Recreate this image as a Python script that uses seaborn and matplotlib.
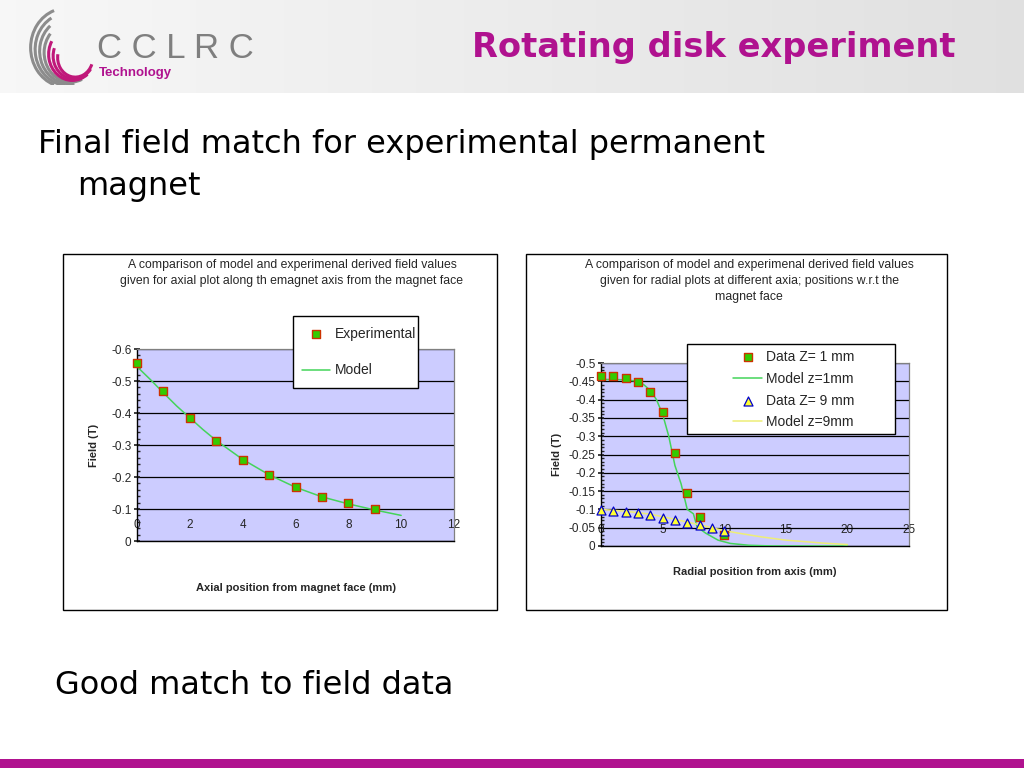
import matplotlib.pyplot as plt
import seaborn as sns
import numpy as np
from matplotlib.patches import Rectangle, Arc
from matplotlib.ticker import MultipleLocator

# Axial plot: experimental points and model curve
axial_x = [0, 1, 2, 3, 4, 5, 6, 7, 8, 9]
axial_field = [-0.555, -0.468, -0.383, -0.311, -0.252, -0.207, -0.168, -0.139, -0.118, -0.100]
axial_model_x = [0, 0.5, 1, 1.5, 2, 2.5, 3, 4, 5, 6, 7, 8, 9, 10]
axial_model_field = [-0.545, -0.505, -0.463, -0.422, -0.385, -0.348, -0.314, -0.255, -0.207, -0.168,
                     -0.138, -0.116, -0.097, -0.080]

# Radial plots at z = 1 mm and z = 9 mm
radial_z1_x = [0, 1, 2, 3, 4, 5, 6, 7, 8, 10]
radial_z1_field = [-0.465, -0.465, -0.460, -0.448, -0.420, -0.365, -0.255, -0.145, -0.080, -0.030]
radial_z1_model_x = [0, 1, 2, 3, 3.5, 4, 4.5, 5, 5.5, 6, 6.5, 7, 7.5, 7.8, 8.5, 9.5, 10.5, 12, 14, 17, 20]
radial_z1_model_field = [-0.455, -0.455, -0.454, -0.450, -0.440, -0.425, -0.400, -0.360, -0.300, -0.220,
                         -0.170, -0.100, -0.088, -0.052, -0.035, -0.016, -0.007, -0.002, 0.0, 0.0, 0.0]
radial_z9_x = [0, 1, 2, 3, 4, 5, 6, 7, 8, 9, 10]
radial_z9_field = [-0.098, -0.096, -0.093, -0.090, -0.085, -0.077, -0.070, -0.062, -0.057, -0.048, -0.040]
radial_z9_model_x = [0, 2, 4, 6, 8, 9, 10, 11, 13, 15, 18, 20]
radial_z9_model_field = [-0.100, -0.095, -0.087, -0.073, -0.058, -0.050, -0.042, -0.036, -0.025, -0.016,
                         -0.008, -0.004]

W, H = 1024, 768
PLOT_BG = "#ccccff"
SQ_FACE, SQ_EDGE = "#33cc00", "#cc3300"
TRI_FACE, TRI_EDGE = "#ffff33", "#0000cc"
GREEN_LINE = "#44d45a"
YELLOW_LINE = "#eeee77"
MAGENTA = "#b0128f"

sns.set_theme(style="white")
plt.rcParams["font.family"] = ["DejaVu Sans"]

fig = plt.figure(figsize=(W / 100, H / 100), dpi=100)
fig.patch.set_facecolor("white")


def px_axes(left, top, right, bottom, **kw):
    # Create axes from pixel coordinates of the slide
    return fig.add_axes([left / W, 1 - bottom / H, (right - left) / W, (bottom - top) / H], **kw)


def fx(x):
    return x / W


def fy(y):
    return 1 - y / H


# Background layer for header, chart boxes and bottom band
bg = px_axes(0, 0, W, H)
bg.set_axis_off()
grad = np.linspace(0.97, 0.88, 256).reshape(1, -1)
bg.imshow(np.dstack([grad, grad, grad]), aspect="auto", extent=[0, W, 93, 0])
bg.add_patch(Rectangle((0, 759), W, 9, color=MAGENTA, lw=0))
for (l, t, r, b) in [(63, 254, 497, 610), (526, 254, 947, 610)]:
    bg.add_patch(Rectangle((l, t), r - l, b - t, facecolor="white", edgecolor="black", lw=1.0))
bg.set_xlim(0, W)
bg.set_ylim(H, 0)

# Logo: swirl of arcs, CCLRC and Technology
logo = px_axes(25, 2, 100, 85)
logo.set_xlim(0, 1)
logo.set_ylim(0, 1)
logo.set_axis_off()
for i in range(7):
    col = "#8c8c8c" if i < 4 else "#c0187a"
    logo.add_patch(Arc((0.55 + 0.02 * i, 0.45 - 0.02 * i), 0.95 - 0.08 * i, 0.95 - 0.08 * i,
                       theta1=110 + 10 * i, theta2=250 + 15 * i, color=col, lw=2.2))
fig.text(fx(97), fy(48), "C C L R C", fontsize=25, color="#7f7f7f", va="center",
         family=["Liberation Sans"])
fig.text(fx(99), fy(73), "Technology", fontsize=9.5, color=MAGENTA, weight="bold", va="center",
         family=["Liberation Sans"])

fig.text(fx(955), fy(47), "Rotating disk experiment", fontsize=24.2, color=MAGENTA,
         weight="bold", ha="right", va="center")

# Body text
fig.text(fx(38), fy(145), "Final field match for experimental permanent", fontsize=23,
         va="center", color="black")
fig.text(fx(77), fy(186), "magnet", fontsize=23, va="center", color="black")
fig.text(fx(55), fy(686), "Good match to field data", fontsize=23, va="center", color="black")

small = dict(family=["Liberation Sans"])


def style_axes(ax, ymax, ystep, yminor, xmax, xstep, xpad):
    ax.set_facecolor(PLOT_BG)
    ax.set_ylim(0, ymax)
    ax.set_xlim(0, xmax)
    ax.yaxis.set_major_locator(MultipleLocator(ystep))
    ax.yaxis.set_minor_locator(MultipleLocator(yminor))
    ax.xaxis.set_major_locator(MultipleLocator(xstep))
    ax.grid(axis="y", color="black", lw=0.9)
    ax.grid(axis="x", visible=False)
    for s in ["top", "right"]:
        ax.spines[s].set_color("#808080")
        ax.spines[s].set_linewidth(0.9)
    for s in ["left", "bottom"]:
        ax.spines[s].set_color("black")
        ax.spines[s].set_linewidth(1.0)
    ax.tick_params(axis="y", which="major", left=True, length=4, direction="inout", labelsize=8.5, pad=2)
    ax.tick_params(axis="y", which="minor", left=True, length=2.5, direction="in")
    ax.tick_params(axis="x", bottom=True, length=0, labelsize=8.5, pad=xpad)
    for lab in ax.get_xticklabels() + ax.get_yticklabels():
        lab.set_fontfamily(["Liberation Sans"])
    ax.set_axisbelow(True)


def legend_box(ax, l, t, r, b):
    # Legend frame drawn at its exact place on the slide
    ax.add_patch(Rectangle((fx(l), fy(b)), fx(r - l), (b - t) / H, transform=fig.transFigure,
                           facecolor="white", edgecolor="black", lw=1.0, clip_on=False, zorder=4))


# Left chart: axial field
axL = px_axes(137, 349, 454, 541)
sns.lineplot(x=axial_model_x, y=axial_model_field, ax=axL, color=GREEN_LINE, lw=1.1, label="Model",
             sort=False, estimator=None, zorder=2.6)
sns.scatterplot(x=axial_x, y=axial_field, ax=axL, marker="s", s=30, color=SQ_FACE, edgecolor=SQ_EDGE,
                linewidth=1.0, label="Experimental", zorder=3, clip_on=False)
style_axes(axL, -0.6, 0.1, 0.02, 12, 2, -16)
axL.set_yticks([0, -0.1, -0.2, -0.3, -0.4, -0.5, -0.6])
axL.set_yticklabels(["0", "-0.1", "-0.2", "-0.3", "-0.4", "-0.5", "-0.6"], **small)
axL.set_ylabel("Field (T)", fontsize=8, weight="bold", labelpad=9, **small)
axL.set_xlabel("Axial position from magnet face (mm)", fontsize=8, weight="bold", labelpad=30, **small)
h, lbl = axL.get_legend_handles_labels()
order = [lbl.index("Experimental"), lbl.index("Model")]
legend_box(axL, 293, 316, 418, 388)
legL = axL.legend([h[i] for i in order], [lbl[i] for i in order], loc="upper left",
                  bbox_to_anchor=(fx(302), fy(327)), bbox_transform=fig.transFigure,
                  frameon=False, borderpad=0, borderaxespad=0, labelspacing=1.62,
                  handlelength=2.0, handletextpad=0.35, prop=dict(family=["Liberation Sans"], size=10))
legL.set_zorder(5)
fig.text(fx(292), fy(273), "A comparison of model and experimenal derived field values\n"
         "given for axial plot along th emagnet axis from the magnet face",
         ha="center", va="center", fontsize=8.8, linespacing=1.45, **small)

# Right chart: radial field
axR = px_axes(601, 363, 909, 546)
sns.lineplot(x=radial_z1_model_x, y=radial_z1_model_field, ax=axR, color=GREEN_LINE, lw=1.1,
             label="Model z=1mm", sort=False, estimator=None, zorder=2.6)
sns.lineplot(x=radial_z9_model_x, y=radial_z9_model_field, ax=axR, color=YELLOW_LINE, lw=1.1,
             label="Model z=9mm", sort=False, estimator=None, zorder=2.6)
sns.scatterplot(x=radial_z1_x, y=radial_z1_field, ax=axR, marker="s", s=30, color=SQ_FACE,
                edgecolor=SQ_EDGE, linewidth=1.0, label="Data Z= 1 mm", zorder=3, clip_on=False)
sns.scatterplot(x=radial_z9_x, y=radial_z9_field, ax=axR, marker="^", s=42, color=TRI_FACE,
                edgecolor=TRI_EDGE, linewidth=0.9, label="Data Z= 9 mm", zorder=3, clip_on=False)
style_axes(axR, -0.5, 0.05, 0.01, 25, 5, -16)
yt = [0, -0.05, -0.1, -0.15, -0.2, -0.25, -0.3, -0.35, -0.4, -0.45, -0.5]
axR.set_yticks(yt)
axR.set_yticklabels(["0", "-0.05", "-0.1", "-0.15", "-0.2", "-0.25", "-0.3", "-0.35", "-0.4", "-0.45",
                     "-0.5"], **small)
axR.set_ylabel("Field (T)", fontsize=8, weight="bold", labelpad=5, **small)
axR.set_xlabel("Radial position from axis (mm)", fontsize=8, weight="bold", labelpad=15, **small)
h, lbl = axR.get_legend_handles_labels()
want = ["Data Z= 1 mm", "Model z=1mm", "Data Z= 9 mm", "Model z=9mm"]
legend_box(axR, 687, 344, 895, 434)
legR = axR.legend([h[lbl.index(w)] for w in want], want, loc="upper left",
                  bbox_to_anchor=(fx(733), fy(350)), bbox_transform=fig.transFigure,
                  frameon=False, borderpad=0, borderaxespad=0, labelspacing=0.56,
                  handlelength=2.1, handletextpad=0.3, prop=dict(family=["Liberation Sans"], size=10))
legR.set_zorder(5)
fig.text(fx(749), fy(281), "A comparison of model and experimenal derived field values\n"
         "given for radial plots at different axia; positions w.r.t the\nmagnet face",
         ha="center", va="center", fontsize=8.8, linespacing=1.45, **small)

fig.savefig("out.png", dpi=100)
